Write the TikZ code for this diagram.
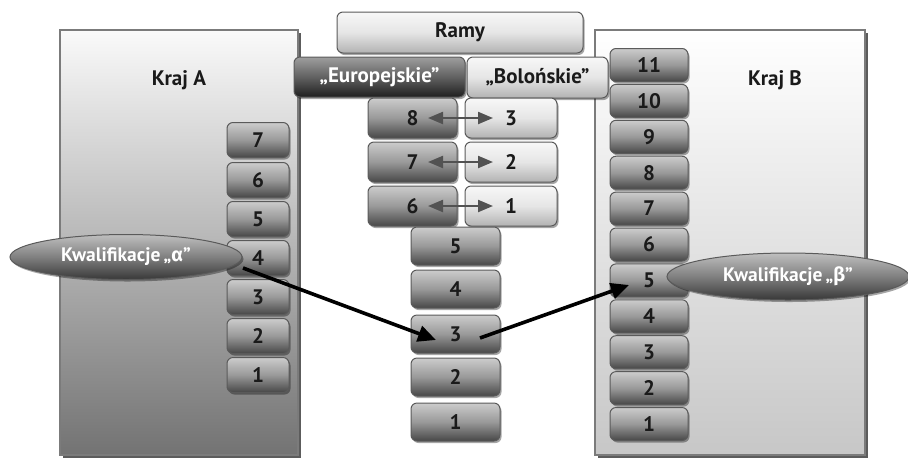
\documentclass[tikz,border=0pt]{standalone}
\usepackage{fontspec}
\setmainfont{PT Sans}
\newfontfamily\grk{Fira Sans}
\usetikzlibrary{shadows,arrows.meta,shapes.geometric}
\definecolor{edgeg}{HTML}{5A5A5A}
\definecolor{txtd}{HTML}{1A1A1A}
\begin{document}
\begin{tikzpicture}[x=1pt,y=-1pt,
  lbl/.style={font=\fontsize{21}{24}\selectfont\bfseries},
  panel/.style={draw=edgeg!80, line width=1.3pt, rectangle, inner sep=0pt,
    drop shadow={shadow xshift=3pt,shadow yshift=-3pt,fill=black!75,opacity=0.85}},
  bx/.style={rectangle, rounded corners=6pt, draw=edgeg, line width=1pt, inner sep=0pt,
    lbl, text=txtd,
    drop shadow={shadow xshift=1.5pt,shadow yshift=-2pt,fill=black,opacity=0.35}},
  lvl/.style={bx, top color=black!20, bottom color=black!72, middle color=black!40},
  darkbx/.style={bx, top color=black!38, bottom color=black!88, middle color=black!62},
  lightbx/.style={bx, top color=black!3, bottom color=black!30, middle color=black!10},
  qual/.style={ellipse, draw=edgeg, line width=1pt, inner sep=0pt,
    top color=black!25, bottom color=black!78, middle color=black!50,
    text=white, font=\fontsize{19.5}{22}\selectfont\bfseries,
    drop shadow={shadow xshift=1.5pt,shadow yshift=-2pt,fill=black,opacity=0.35}},
  bigarrow/.style={line width=3.6pt, black, -{Triangle[length=18pt,width=16pt]}},
  dblarrow/.style={line width=2.2pt, black!68, {Triangle[length=15pt,width=12pt]}-{Triangle[length=15pt,width=12pt]}}
]
\useasboundingbox (0,0) rectangle (908,459);

% panels
\node[panel, top color=black!2, bottom color=black!55, minimum width=238pt, minimum height=425pt] (pA) at (179,242.5) {};
\node[panel, top color=white, bottom color=black!22, minimum width=270pt, minimum height=425pt] (pB) at (730,242.5) {};
\node[lbl, text=txtd] (tA) at (179,80) {Kraj A};
\node[lbl, text=txtd] (tB) at (775,80) {Kraj B};

% frameworks header
\node[lightbx, minimum width=246pt, minimum height=41pt] (ramy) at (460,32.5) {Ramy};
\node[darkbx, text=white, minimum width=171pt, minimum height=40pt] (eu) at (379.5,77) {„Europejskie”};
\node[lightbx, minimum width=141pt, minimum height=41pt] (bo) at (537.5,77.5) {„Bolońskie”};

% row boxes
\foreach \l/\r/\y in {8/3/118, 7/2/162, 6/1/206}{
  \node[lvl, minimum width=89pt, minimum height=40pt] (e\l) at (412.5,\y) {\l};
  \node[lightbx, minimum width=92pt, minimum height=40pt] (b\r) at (511,\y) {\r};
  \path (e\l.center) ++(15.5,0) coordinate (el\l);
  \path (b\r.center) ++(-18,0) coordinate (br\r);
  \draw[dblarrow] (el\l) -- (br\r);
}

% central stack
\foreach \n/\y in {5/246, 4/289, 3/334, 2/377, 1/422}{
  \node[lvl, minimum width=89pt, minimum height=38pt] (c\n) at (455.5,\y) {\n};
}

% Kraj A stack
\foreach \n/\y in {7/140, 6/180, 5/219, 4/258, 3/297, 2/336, 1/375}{
  \node[lvl, minimum width=62pt, minimum height=35pt] (a\n) at (258,\y) {\n};
}

% Kraj B stack
\foreach \n in {1,...,11}{
  \pgfmathsetmacro{\yy}{424-35.9*(\n-1)}
  \node[lvl, minimum width=78pt, minimum height=33pt] (bb\n) at (649,\yy) {\n};
}

% qualifications
\node[qual, minimum width=232pt, minimum height=45pt] (qa) at (126,257) {Kwalifikacje\,„{\grk α}”};
\node[qual, minimum width=242pt, minimum height=47pt] (qb) at (788,276.5) {Kwalifikacje\,„{\grk β}”};

% arrows
\coordinate (s1) at (243,268);
\coordinate (t1) at (436,340);
\coordinate (s2) at (480,338);
\coordinate (t2) at (629,285);
\draw[bigarrow] (s1) -- (t1);
\draw[bigarrow] (s2) -- (t2);
\end{tikzpicture}
\end{document}
